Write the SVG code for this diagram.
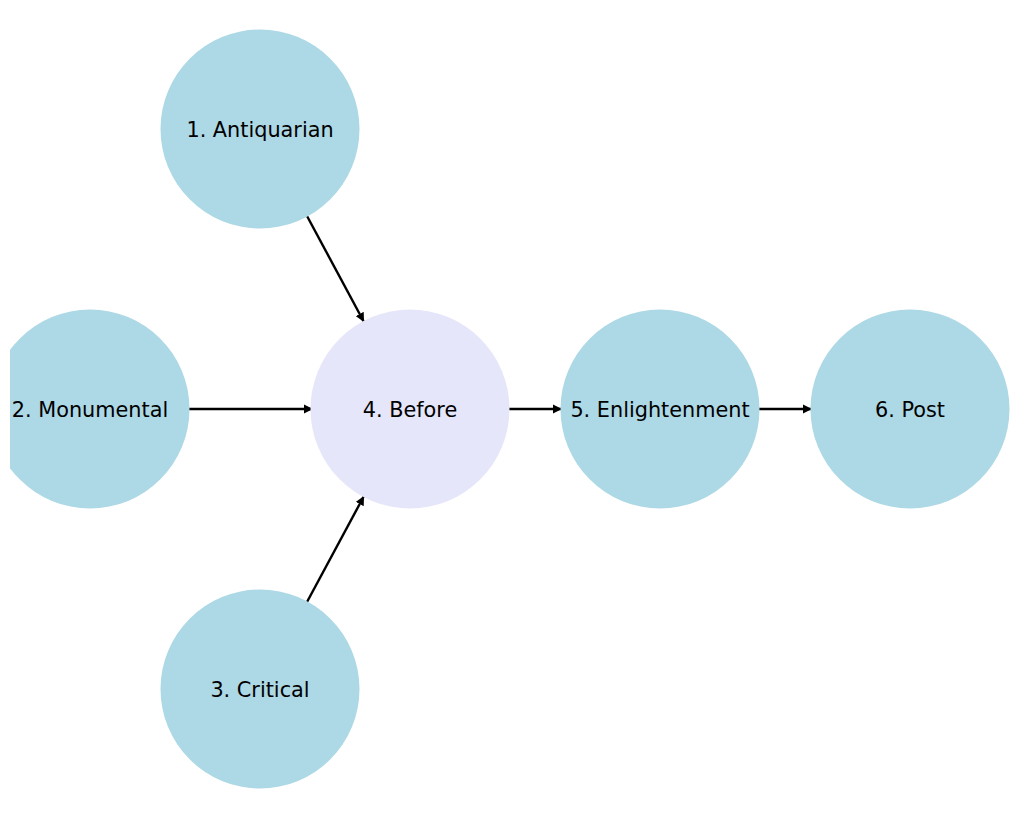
<svg xmlns="http://www.w3.org/2000/svg" width="1019" height="819" viewBox="0 0 1019 819">
<style>
.n{fill:#add8e6}
.c{fill:#e6e6fa}
text{font-family:"DejaVu Sans",sans-serif;font-size:20.8px;fill:#000;text-anchor:middle;dominant-baseline:central}
.e{stroke:#000;stroke-width:2.4;fill:none;marker-end:url(#a)}
</style>
<defs>
<marker id="a" viewBox="0 0 10 10" refX="10" refY="5" markerWidth="3.8" markerHeight="3.8" orient="auto" markerUnits="strokeWidth">
<path d="M0,0 L10,5 L0,10 z" fill="#000"/>
</marker>
<clipPath id="clip"><rect x="10" y="0" width="1009" height="819"/></clipPath>
</defs>
<rect width="1019" height="819" fill="#fff"/>
<g id="edges">
<line class="e" x1="307" y1="216" x2="364" y2="322"/>
<line class="e" x1="189" y1="409" x2="313" y2="409"/>
<line class="e" x1="307" y1="602" x2="364" y2="496"/>
<line class="e" x1="509" y1="409" x2="562" y2="409"/>
<line class="e" x1="759" y1="409" x2="812" y2="409"/>
</g>
<g id="n1"><circle class="n" cx="260" cy="129" r="99.5"/><text x="260" y="130">1. Antiquarian</text></g>
<g id="n2" clip-path="url(#clip)"><circle class="n" cx="90" cy="409" r="99.5"/><text x="90" y="410">2. Monumental</text></g>
<g id="n3"><circle class="n" cx="260" cy="689" r="99.5"/><text x="260" y="690">3. Critical</text></g>
<g id="n4"><circle class="c" cx="410" cy="409" r="99.5"/><text x="410" y="410">4. Before</text></g>
<g id="n5"><circle class="n" cx="660" cy="409" r="99.5"/><text x="660" y="410">5. Enlightenment</text></g>
<g id="n6"><circle class="n" cx="910" cy="409" r="99.5"/><text x="910" y="410">6. Post</text></g>
</svg>
